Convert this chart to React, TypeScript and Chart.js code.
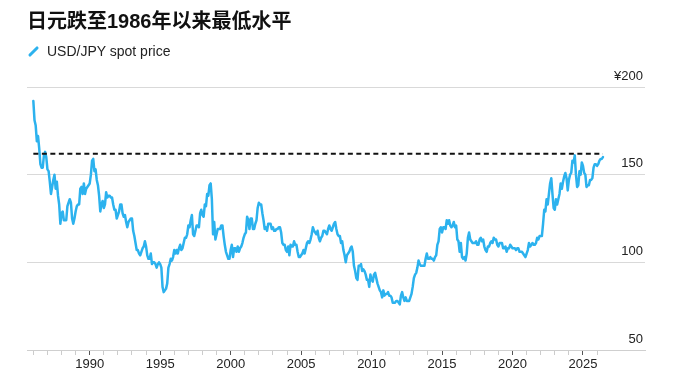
import React, { useEffect, useRef } from "react";
import { Chart, registerables } from "chart.js";

Chart.register(...registerables);

// Monthly USD/JPY spot price, one value per month starting January 1986
const startYear = 1986;
const rates1986to1995 = [
  192, 181, 178, 169, 172, 165, 156, 154, 154, 161, 163, 160,
  153, 152, 146, 139, 143, 147, 150, 142, 146, 138, 133, 122,
  128, 129, 124, 124, 124, 132, 134, 136, 134, 125, 122, 125,
  129, 132, 133, 133, 142, 143, 139, 145, 139, 142, 143, 144,
  145, 150, 158, 159, 152, 153, 147, 144, 138, 129, 133, 135,
  131, 133, 140, 137, 138, 138, 137, 137, 133, 130, 130, 125,
  127, 129, 133, 133, 128, 126, 127, 123, 120, 123, 124, 125,
  125, 118, 115, 111, 107, 107, 105, 104, 106, 108, 109, 112,
  109, 104, 102, 102, 105, 99, 100, 100, 99, 97, 99, 100,
  99, 97, 86, 83, 84, 85, 88, 97, 99, 102, 101, 103,
];
const rates1996to2005 = [
  107, 105, 107, 105, 108, 110, 107, 108, 111, 114, 114, 116,
  121, 120, 124, 127, 116, 115, 118, 121, 121, 120, 128, 130,
  127, 126, 133, 132, 139, 138, 144, 145, 136, 116, 123, 113,
  116, 119, 119, 119, 121, 121, 115, 110, 106, 104, 102, 102,
  107, 110, 103, 108, 108, 106, 109, 106, 108, 109, 111, 114,
  116, 117, 126, 124, 119, 125, 125, 119, 119, 122, 124, 131,
  134, 133, 133, 128, 124, 119, 120, 118, 122, 122, 122, 119,
  120, 118, 118, 119, 119, 120, 120, 117, 111, 110, 110, 107,
  106, 109, 104, 110, 109, 109, 112, 110, 110, 106, 103, 103,
  104, 105, 107, 105, 108, 111, 112, 111, 113, 116, 120, 118,
];
const rates2006to2015 = [
  117, 116, 118, 114, 112, 114, 115, 118, 118, 117, 116, 119,
  121, 119, 118, 120, 122, 123, 119, 116, 115, 115, 111, 112,
  107, 104, 100, 104, 105, 106, 108, 109, 106, 98, 95, 91,
  90, 98, 98, 99, 95, 96, 95, 93, 90, 90, 86, 93,
  90, 89, 93, 94, 91, 88, 86, 84, 83, 80, 84, 81,
  82, 82, 83, 81, 81, 80, 77, 77, 77, 78, 78, 77,
  76, 81, 83, 80, 78, 80, 78, 78, 78, 80, 82, 86,
  91, 93, 94, 97, 101, 99, 98, 98, 98, 98, 102, 105,
  102, 102, 103, 102, 102, 101, 103, 104, 110, 112, 119, 120,
  117, 120, 120, 119, 124, 122, 124, 121, 120, 121, 123, 120,
];
const rates2016to2026 = [
  121, 113, 112, 106, 111, 103, 102, 103, 101, 105, 114, 117,
  113, 112, 111, 111, 111, 112, 110, 110, 113, 114, 112, 113,
  109, 107, 106, 109, 109, 111, 112, 111, 114, 113, 113, 110,
  109, 111, 111, 111, 108, 108, 109, 106, 108, 108, 110, 109,
  108, 108, 108, 107, 108, 108, 106, 106, 106, 105, 104, 103,
  105, 107, 111, 109, 110, 111, 110, 110, 111, 114, 113, 115,
  115, 115, 122, 130, 129, 136, 133, 139, 145, 148, 139, 131,
  130, 136, 133, 136, 139, 145, 142, 146, 149, 151, 148, 141,
  147, 150, 151, 158, 157, 161, 150, 143, 144, 152, 150, 157,
  155, 151, 150, 143, 144, 144, 147, 147, 148, 154, 156, 156,
  155, 156, 158, 159, 159, 160,
];

// Weakest yen level since 1986, marked with a dashed reference line
const recordLevel = 161.95;

const yearLabels = [1990, 1995, 2000, 2005, 2010, 2015, 2020, 2025];
const yTicks = [50, 100, 150, 200];

const title = "日元跌至1986年以来最低水平";
const seriesName = "USD/JPY spot price";

const lineColor = "#2cb2ee";
const labelFont = { family: "'Liberation Sans', Arial, sans-serif", size: 13 };

export default function App() {
  const canvasRef = useRef<HTMLCanvasElement | null>(null);

  useEffect(() => {
    const canvas = canvasRef.current;
    if (!canvas) return;

    const monthly = [...rates1986to1995, ...rates1996to2005, ...rates2006to2015, ...rates2016to2026];
    const points = monthly.map((v, i) => ({ x: startYear + i / 12, y: v }));
    const firstX = points[0].x;
    const lastX = points[points.length - 1].x;

    const chart = new Chart(canvas, {
      type: "line",
      data: {
        datasets: [
          {
            label: seriesName,
            data: points,
            borderColor: lineColor,
            borderWidth: 2.5,
            borderJoinStyle: "round",
            borderCapStyle: "round",
            pointRadius: 0,
            tension: 0,
            order: 2,
          },
          {
            label: "record",
            data: [
              { x: firstX, y: recordLevel },
              { x: lastX, y: recordLevel },
            ],
            borderColor: "#111111",
            borderWidth: 2,
            borderDash: [5, 3.5],
            pointRadius: 0,
            order: 1,
          },
        ],
      },
      options: {
        animation: false,
        responsive: false,
        maintainAspectRatio: false,
        layout: { padding: { left: 27, right: 36, top: 87, bottom: 8 } },
        plugins: {
          legend: { display: false },
          tooltip: { enabled: false },
        },
        scales: {
          x: {
            type: "linear",
            min: 1985.55,
            max: 2029.4,
            afterBuildTicks: (scale: any) => {
              const ticks = [];
              for (let y = 1986; y <= 2026; y++) ticks.push({ value: y });
              scale.ticks = ticks;
            },
            afterFit: (scale: any) => {
              scale.height = 30;
            },
            grid: {
              drawOnChartArea: false,
              drawTicks: true,
              tickLength: 5,
              tickWidth: 1,
              tickColor: (ctx: any) =>
                ctx.tick && yearLabels.includes(ctx.tick.value) ? "#555555" : "#cccccc",
            },
            border: { display: true, color: "#cfcfcf", width: 1 },
            ticks: {
              autoSkip: false,
              maxRotation: 0,
              padding: 2,
              color: "#222222",
              font: labelFont,
              callback: (v: any) => (yearLabels.includes(Number(v)) ? String(v) : ""),
            },
          },
          y: {
            position: "right",
            min: 50,
            max: 200,
            afterBuildTicks: (scale: any) => {
              scale.ticks = yTicks.map((v) => ({ value: v }));
            },
            afterFit: (scale: any) => {
              scale.width = 0;
            },
            grid: { color: "#d9d9d9", lineWidth: 1, drawTicks: false },
            border: { display: false },
            ticks: {
              mirror: true,
              padding: -2,
              labelOffset: -11,
              color: "#222222",
              font: labelFont,
              callback: (v: any) => (Number(v) === 200 ? "¥" + v : String(v)),
            },
          },
        },
      },
    });

    return () => chart.destroy();
  }, []);

  return (
    <div
      style={{
        position: "absolute",
        left: 0,
        top: 0,
        width: 681,
        height: 388,
        background: "#ffffff",
        overflow: "hidden",
      }}
    >
      <canvas
        ref={canvasRef}
        width={681}
        height={388}
        style={{ position: "absolute", left: 0, top: 0 }}
      />
      <div
        style={{
          position: "absolute",
          left: 27,
          top: 8,
          fontFamily: "'Liberation Sans', 'Noto Sans CJK SC', sans-serif",
          fontWeight: 700,
          fontSize: 20,
          lineHeight: "26px",
          color: "#111111",
          whiteSpace: "nowrap",
        }}
      >
        {title}
      </div>
      <div
        style={{
          position: "absolute",
          left: 27,
          top: 42,
          height: 18,
          display: "flex",
          alignItems: "center",
          fontFamily: "'Liberation Sans', Arial, sans-serif",
          fontSize: 14,
          color: "#222222",
          whiteSpace: "nowrap",
        }}
      >
        <span
          style={{
            display: "inline-block",
            width: 13,
            height: 3,
            borderRadius: 1.5,
            background: lineColor,
            transform: "rotate(-45deg)",
            marginRight: 7,
          }}
        />
        {seriesName}
      </div>
    </div>
  );
}
